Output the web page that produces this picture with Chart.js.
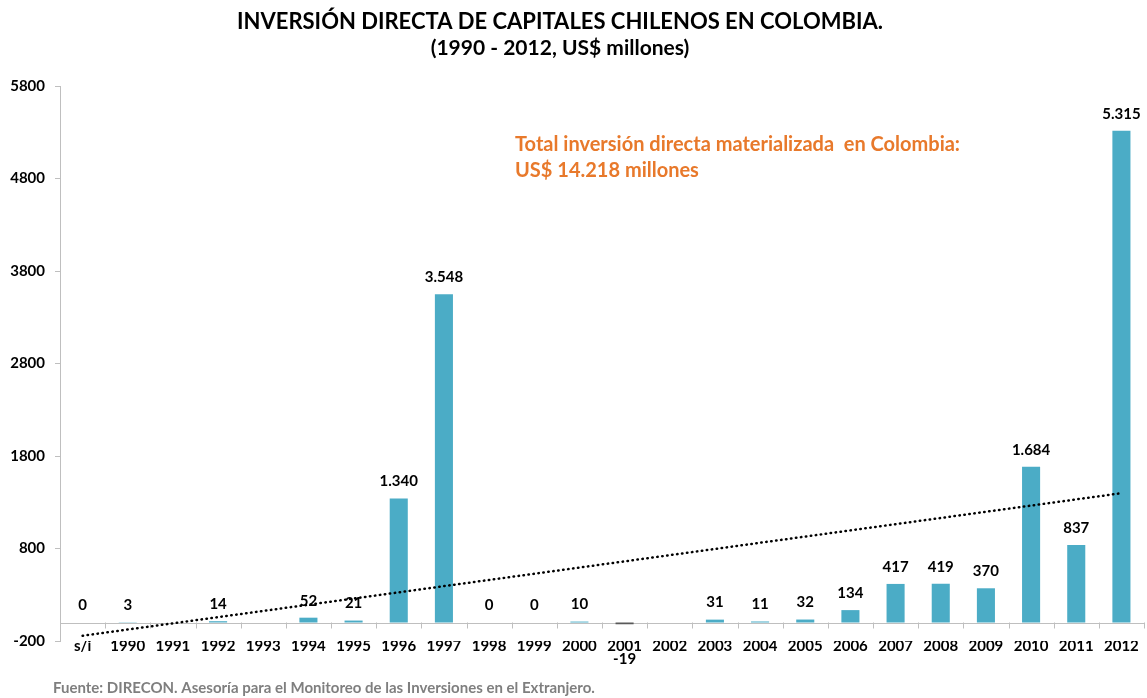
<!DOCTYPE html>
<html lang="es">
<head>
<meta charset="utf-8">
<title>Inversión directa de capitales chilenos en Colombia</title>
<script src="https://cdn.jsdelivr.net/npm/chart.js@4.4.0/dist/chart.umd.min.js"></script>
<style>
    html, body { margin: 0; padding: 0; background: #ffffff; }
    #wrap { position: relative; width: 1147px; height: 698px; }
</style>
</head>
<body>
<div id="wrap"><canvas id="inversionChart"></canvas></div>
<script>
// Datos (US$ millones)
const categorias = ['s/i', '1990', '1991', '1992', '1993', '1994', '1995', '1996', '1997', '1998', '1999',
    '2000', '2001', '2002', '2003', '2004', '2005', '2006', '2007', '2008', '2009', '2010', '2011', '2012'];
const inversion = [0, 3, null, 14, null, 52, 21, 1340, 3548, 0, 0,
    10, -19, null, 31, 11, 32, 134, 417, 419, 370, 1684, 837, 5315];
const ticksY = [-200, 800, 1800, 2800, 3800, 4800, 5800];
// extremos de la línea de tendencia
const tendenciaInicio = -143;
const tendenciaFin = 1398;

const titulo = 'INVERSIÓN DIRECTA DE CAPITALES CHILENOS EN COLOMBIA.';
const subtitulo = '(1990 - 2012, US$ millones)';
const nota = ['Total inversión directa materializada  en Colombia:', 'US$ 14.218 millones'];
const fuente = 'Fuente: DIRECON. Asesoría para el Monitoreo de las Inversiones en el Extranjero.';

const FONT = 'Lato, "Open Sans", sans-serif';
const AZUL = '#4BACC6';
const GRIS_NEG = '#595959';
const EJE = '#BFBFBF';

const tendencia = categorias.map((c, i) => {
    if (i === 0) return tendenciaInicio;
    if (i === categorias.length - 1) return tendenciaFin;
    return null;
});

function formatoMiles(v) {
    const s = String(Math.abs(v)).replace(/\B(?=(\d{3})+(?!\d))/g, '.');
    return (v < 0 ? '-' : '') + s;
}

// Textos, línea del cero y etiquetas de valores
const extras = {
    id: 'extras',
    beforeDatasetsDraw(chart) {
        const ctx = chart.ctx;
        const area = chart.chartArea;
        const y = chart.scales.y;
        const y0 = y.getPixelForValue(0);
        ctx.save();
        ctx.strokeStyle = EJE;
        ctx.lineWidth = 1;
        ctx.beginPath();
        ctx.moveTo(area.left, Math.round(y0) + 0.5);
        ctx.lineTo(area.right, Math.round(y0) + 0.5);
        // marcas entre categorías
        const paso = (area.right - area.left) / categorias.length;
        for (let i = 1; i <= categorias.length; i++) {
            const px = Math.round(area.left + i * paso) + 0.5;
            ctx.moveTo(px, y0);
            ctx.lineTo(px, y0 + 6);
        }
        ctx.stroke();
        ctx.restore();
    },
    afterDraw(chart) {
        const ctx = chart.ctx;
        const y = chart.scales.y;
        ctx.save();
        ctx.textAlign = 'center';
        ctx.textBaseline = 'middle';
        ctx.fillStyle = '#000000';
        ctx.font = 'bold 22px ' + FONT;
        ctx.fillText(titulo, 560, 22);
        ctx.font = 'bold 21px ' + FONT;
        ctx.fillText(subtitulo, 560, 48);

        // etiquetas de valores
        ctx.font = 'bold 15px ' + FONT;
        const meta = chart.getDatasetMeta(1);
        inversion.forEach((v, i) => {
            if (v === null) return;
            const px = meta.data[i].x;
            if (v < 0) {
                ctx.fillText(formatoMiles(v), px, 659);
            } else {
                ctx.fillText(formatoMiles(v), px, y.getPixelForValue(v) - 17);
            }
        });

        ctx.textAlign = 'left';
        ctx.fillStyle = '#E8792B';
        ctx.font = 'bold 20px ' + FONT;
        ctx.fillText(nota[0], 515, 145);
        ctx.fillText(nota[1], 515, 171);

        ctx.fillStyle = '#7F7F7F';
        ctx.font = 'bold 15px ' + FONT;
        ctx.fillText(fuente, 53, 688);
        ctx.restore();
    }
};

const ctx = document.getElementById('inversionChart');
new Chart(ctx, {
    type: 'bar',
    data: {
        labels: categorias,
        datasets: [
            {
                type: 'line',
                label: 'Tendencia',
                data: tendencia,
                spanGaps: true,
                borderColor: '#000000',
                borderWidth: 2.5,
                borderDash: [0.5, 4.5],
                borderCapStyle: 'round',
                pointRadius: 0,
                fill: false,
                order: 0
            },
            {
                label: 'Inversión',
                data: inversion,
                backgroundColor: inversion.map(v => (v !== null && v < 0) ? GRIS_NEG : AZUL),
                barPercentage: 0.4,
                categoryPercentage: 1,
                order: 1
            }
        ]
    },
    options: {
        responsive: true,
        maintainAspectRatio: false,
        animation: false,
        layout: { padding: { top: 86, right: 3, left: 0, bottom: 0 } },
        plugins: {
            legend: { display: false },
            tooltip: { enabled: false }
        },
        scales: {
            x: {
                grid: { display: false },
                border: { display: false },
                ticks: {
                    color: '#000000',
                    padding: -12,
                    maxRotation: 0,
                    autoSkip: false,
                    font: { family: FONT, size: 15, weight: 'bold' }
                },
                afterFit(scale) { scale.height = 57; }
            },
            y: {
                min: -200,
                max: 5800,
                afterBuildTicks(scale) {
                    scale.ticks = ticksY.map(v => ({ value: v }));
                },
                grid: { drawOnChartArea: false, tickLength: 5, color: EJE },
                border: { color: EJE },
                ticks: {
                    color: '#000000',
                    padding: 10,
                    font: { family: FONT, size: 15, weight: 'bold' },
                    callback: v => String(v)
                },
                afterFit(scale) { scale.width = 60; }
            }
        }
    },
    plugins: [extras]
});
</script>
</body>
</html>
